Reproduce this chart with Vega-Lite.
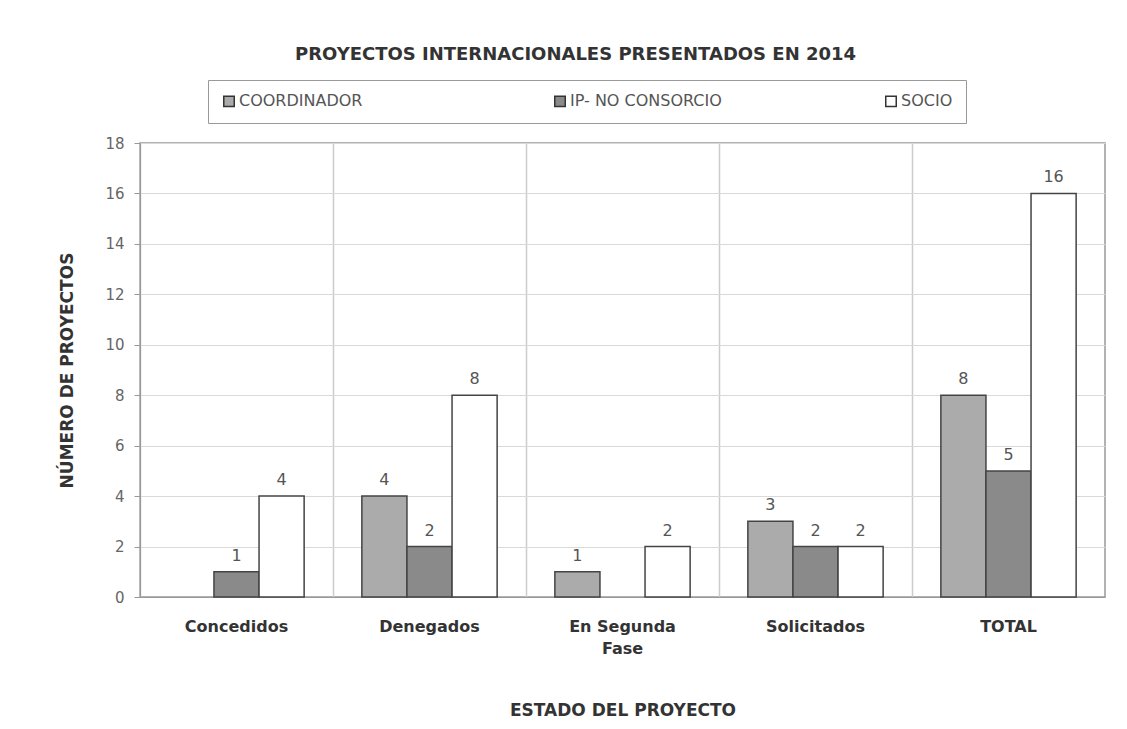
{
  "$schema": "https://vega.github.io/schema/vega-lite/v6.json",
  "width": 965,
  "height": 454,
  "autosize": {"type": "none"},
  "padding": {"left": 140, "top": 143, "right": 22, "bottom": 132},
  "background": "white",
  "title": {
    "text": "PROYECTOS INTERNACIONALES PRESENTADOS EN 2014",
    "fontSize": 18,
    "fontWeight": "bold",
    "font": "DejaVu Sans",
    "color": "#333333",
    "anchor": "middle",
    "dx": -47,
    "offset": 16
  },
  "config": {
    "view": {"stroke": "#999999", "strokeWidth": 1.5},
    "font": "DejaVu Sans"
  },
  "data": {
    "values": [
      {"estado": "Concedidos", "serie": "COORDINADOR", "valor": 0},
      {"estado": "Concedidos", "serie": "IP- NO CONSORCIO", "valor": 1},
      {"estado": "Concedidos", "serie": "SOCIO", "valor": 4},
      {"estado": "Denegados", "serie": "COORDINADOR", "valor": 4},
      {"estado": "Denegados", "serie": "IP- NO CONSORCIO", "valor": 2},
      {"estado": "Denegados", "serie": "SOCIO", "valor": 8},
      {"estado": "En Segunda Fase", "serie": "COORDINADOR", "valor": 1},
      {"estado": "En Segunda Fase", "serie": "IP- NO CONSORCIO", "valor": 0},
      {"estado": "En Segunda Fase", "serie": "SOCIO", "valor": 2},
      {"estado": "Solicitados", "serie": "COORDINADOR", "valor": 3},
      {"estado": "Solicitados", "serie": "IP- NO CONSORCIO", "valor": 2},
      {"estado": "Solicitados", "serie": "SOCIO", "valor": 2},
      {"estado": "TOTAL", "serie": "COORDINADOR", "valor": 8},
      {"estado": "TOTAL", "serie": "IP- NO CONSORCIO", "valor": 5},
      {"estado": "TOTAL", "serie": "SOCIO", "valor": 16}
    ]
  },
  "transform": [{"filter": "datum.valor > 0"}],
  "encoding": {
    "x": {
      "field": "estado",
      "type": "nominal",
      "sort": ["Concedidos", "Denegados", "En Segunda Fase", "Solicitados", "TOTAL"],
      "scale": {"paddingInner": 0, "paddingOuter": 0},
      "axis": {
        "title": "ESTADO DEL PROYECTO",
        "titleFontSize": 17,
        "titleFontWeight": "bold",
        "titleColor": "#333333",
        "titlePadding": 46,
        "labelAngle": 0,
        "labelFontSize": 16,
        "labelFontWeight": "bold",
        "labelColor": "#333333",
        "labelPadding": 21,
        "labelExpr": "datum.label == 'En Segunda Fase' ? ['En Segunda', 'Fase'] : datum.label",
        "labelLineHeight": 22,
        "bandPosition": 0,
        "grid": true,
        "gridColor": "#cccccc",
        "gridWidth": 1.5,
        "ticks": false,
        "domainColor": "#999999"
      }
    },
    "xOffset": {
      "field": "serie",
      "type": "nominal",
      "sort": ["COORDINADOR", "IP- NO CONSORCIO", "SOCIO"],
      "scale": {"paddingInner": 0, "paddingOuter": 0.64}
    },
    "y": {
      "field": "valor",
      "type": "quantitative",
      "scale": {"domain": [0, 18]},
      "axis": {
        "title": "NÚMERO DE PROYECTOS",
        "titleFontSize": 17,
        "titleFontWeight": "bold",
        "titleColor": "#333333",
        "titlePadding": 28,
        "values": [0, 2, 4, 6, 8, 10, 12, 14, 16, 18],
        "labelFontSize": 15,
        "labelColor": "#666666",
        "labelPadding": 10,
        "tickSize": 6,
        "tickColor": "#999999",
        "domainColor": "#999999",
        "gridColor": "#d9d9d9",
        "gridWidth": 1.2
      }
    }
  },
  "layer": [
    {
      "mark": {"type": "bar", "stroke": "#444444", "strokeWidth": 1.5},
      "encoding": {
        "color": {
          "field": "serie",
          "type": "nominal",
          "scale": {
            "domain": ["COORDINADOR", "IP- NO CONSORCIO", "SOCIO"],
            "range": ["#ababab", "#8a8a8a", "#ffffff"]
          },
          "legend": {
            "title": null,
            "orient": "none",
            "legendX": 68,
            "legendY": -63,
            "direction": "horizontal",
            "columns": 3,
            "gridAlign": "all",
            "columnPadding": 160,
            "padding": 13,
            "symbolType": "square",
            "symbolSize": 110,
            "symbolStrokeColor": "#333333",
            "symbolStrokeWidth": 1.5,
            "labelFontSize": 16,
            "labelColor": "#555555",
            "labelOffset": 2,
            "strokeColor": "#999999",
            "fillColor": "#ffffff"
          }
        }
      }
    },
    {
      "mark": {"type": "text", "dy": -16, "fontSize": 16, "color": "#555555"},
      "encoding": {
        "text": {"field": "valor", "type": "quantitative"}
      }
    }
  ]
}
